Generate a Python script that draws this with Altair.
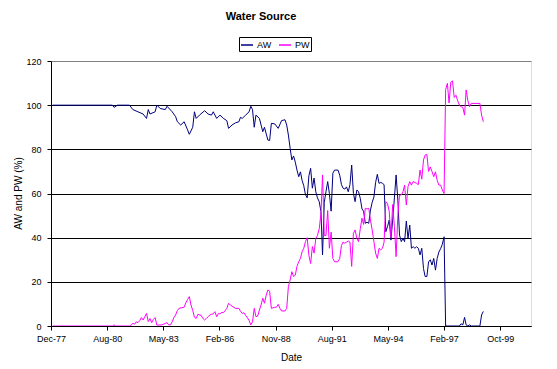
import altair as alt
import pandas as pd

# ---- data ----
AW_DATES = [
    "1978-01", "1980-12", "1981-01", "1981-03", "1981-10", "1981-12", "1982-03", "1982-06",
    "1982-08", "1982-09", "1982-10", "1983-01", "1983-02", "1983-04", "1983-07", "1983-08",
    "1983-11", "1984-01", "1984-02", "1984-04", "1984-06", "1984-08", "1984-09", "1984-11",
    "1984-12", "1985-01", "1985-03", "1985-06", "1985-08", "1985-10", "1985-11", "1986-01",
    "1986-03", "1986-05", "1986-07", "1986-08", "1986-10", "1986-12", "1987-02", "1987-03",
    "1987-04", "1987-06", "1987-08", "1987-09", "1987-10", "1987-11", "1987-12", "1988-02",
    "1988-04", "1988-05", "1988-06", "1988-07", "1988-08", "1988-09", "1988-11", "1989-01",
    "1989-03", "1989-05", "1989-06", "1989-07", "1989-08", "1989-09", "1989-10", "1989-11",
    "1989-12", "1990-01", "1990-02", "1990-03", "1990-04", "1990-05", "1990-06", "1990-07",
    "1990-08", "1990-09", "1990-10", "1990-11", "1990-12", "1991-01", "1991-02", "1991-03",
    "1991-04", "1991-05", "1991-06", "1991-07", "1991-08", "1991-09", "1991-10", "1991-12",
    "1992-01", "1992-02", "1992-03", "1992-04", "1992-05", "1992-06", "1992-07", "1992-08",
    "1992-09", "1992-10", "1992-11", "1992-12", "1993-01", "1993-02", "1993-03", "1993-04",
    "1993-05", "1993-06", "1993-07", "1993-08", "1993-09", "1993-10", "1993-11", "1993-12",
    "1994-01", "1994-02", "1994-03", "1994-04", "1994-05", "1994-06", "1994-07", "1994-08",
    "1994-09", "1994-10", "1994-11", "1994-12", "1995-01", "1995-02", "1995-03", "1995-04",
    "1995-05", "1995-06", "1995-07", "1995-08", "1995-09", "1995-10", "1995-11", "1995-12",
    "1996-01", "1996-02", "1996-03", "1996-04", "1996-05", "1996-06", "1996-07", "1996-08",
    "1996-09", "1996-10", "1996-11", "1996-12", "1997-01", "1997-02", "1997-03", "1997-11",
    "1997-12", "1998-01", "1998-02", "1998-03", "1998-04", "1998-05", "1998-06", "1998-11",
    "1998-12", "1999-01",
]
AW_VALUES = [
    100, 100, 99, 100, 100, 98, 97, 96,
    94, 98, 96, 97, 100, 98.5, 98, 99.5,
    97, 94.8, 92.5, 91, 92.5, 88.8, 86.8, 90,
    97, 94, 95.5, 97.5, 96, 95.5, 97, 94,
    95.5, 94, 93, 89.5, 91, 92, 92.5, 94.5,
    94, 95.5, 97, 99.5, 98, 90, 95.5, 94,
    88, 90, 87, 84.2, 84, 91.8, 91.5, 89.5,
    93, 93.4, 91, 86.5, 80.5, 75.2, 77, 74.2,
    70.6, 67.6, 69.8, 66, 63.5, 59.5, 58, 68,
    71.4, 62.4, 67, 60.8, 58, 56.3, 51.8, 32.2,
    56, 60.8, 65.4, 60, 52, 69.2, 70.6, 70.6,
    68.3, 64, 62.4, 62, 63, 60.8, 64, 72.9,
    60, 56.3, 61.6, 60.8, 57.8, 53, 52, 46.5,
    47, 46.5, 52.5, 56, 58.4, 65, 68.7, 64.6,
    65, 64.6, 64, 42.7, 45, 48, 38.9, 48,
    58, 68.4, 57, 41.2, 38.2, 39.7, 38.2, 47.5,
    39.7, 45.7, 35.2, 35.9, 35.2, 35.9, 35.2, 32.2,
    35.2, 26, 22.4, 22.4, 29, 30, 27.6, 30.6,
    25.3, 30.6, 33.5, 35, 37, 40.4, 0, 0,
    1, 0.5, 3.9, 0.5, 0, 0.5, 0, 0,
    5, 6.6,
]

PW_DATES = [
    "1978-01", "1980-12", "1981-01", "1981-02", "1981-10", "1981-11", "1981-12", "1982-01",
    "1982-02", "1982-03", "1982-04", "1982-05", "1982-06", "1982-07", "1982-08", "1982-09",
    "1982-10", "1982-11", "1982-12", "1983-01", "1983-02", "1983-05", "1983-07", "1983-08",
    "1983-09", "1983-10", "1983-11", "1983-12", "1984-01", "1984-02", "1984-03", "1984-06",
    "1984-07", "1984-08", "1984-09", "1984-10", "1984-11", "1984-12", "1985-01", "1985-02",
    "1985-03", "1985-04", "1985-05", "1985-06", "1985-07", "1985-08", "1985-09", "1985-10",
    "1985-11", "1985-12", "1986-01", "1986-02", "1986-03", "1986-04", "1986-05", "1986-06",
    "1986-07", "1986-08", "1986-09", "1986-10", "1986-11", "1986-12", "1987-02", "1987-03",
    "1987-04", "1987-05", "1987-06", "1987-07", "1987-08", "1987-09", "1987-10", "1987-11",
    "1987-12", "1988-01", "1988-02", "1988-03", "1988-04", "1988-05", "1988-06", "1988-07",
    "1988-08", "1988-09", "1988-11", "1988-12", "1989-01", "1989-02", "1989-03", "1989-05",
    "1989-06", "1989-07", "1989-08", "1989-09", "1989-10", "1989-11", "1989-12", "1990-01",
    "1990-02", "1990-03", "1990-04", "1990-05", "1990-06", "1990-07", "1990-08", "1990-09",
    "1990-10", "1990-11", "1990-12", "1991-01", "1991-02", "1991-03", "1991-04", "1991-05",
    "1991-06", "1991-07", "1991-08", "1991-09", "1991-10", "1991-12", "1992-01", "1992-02",
    "1992-03", "1992-04", "1992-05", "1992-06", "1992-07", "1992-08", "1992-09", "1992-10",
    "1992-11", "1992-12", "1993-01", "1993-02", "1993-03", "1993-04", "1993-05", "1993-06",
    "1993-07", "1993-08", "1993-09", "1993-10", "1993-11", "1993-12", "1994-01", "1994-02",
    "1994-03", "1994-04", "1994-05", "1994-06", "1994-07", "1994-08", "1994-09", "1994-10",
    "1994-11", "1994-12", "1995-01", "1995-02", "1995-03", "1995-04", "1995-05", "1995-06",
    "1995-07", "1995-08", "1995-09", "1995-10", "1995-11", "1995-12", "1996-01", "1996-02",
    "1996-03", "1996-04", "1996-05", "1996-06", "1996-07", "1996-08", "1996-09", "1996-10",
    "1996-11", "1996-12", "1997-01", "1997-02", "1997-03", "1997-04", "1997-05", "1997-06",
    "1997-07", "1997-08", "1997-09", "1997-10", "1997-11", "1997-12", "1998-01", "1998-02",
    "1998-03", "1998-04", "1998-05", "1998-06", "1998-11", "1998-12", "1999-01",
]
PW_VALUES = [
    0, 0, 0.5, 0, 0, 0.5, 1.2, 0.8,
    1.9, 1.5, 2.4, 3.8, 2.7, 4.2, 5.7, 2,
    3.4, 1.5, 3, 3.8, 0.4, 0.5, 1.2, 1.5,
    0.5, 0.5, 1.9, 3.8, 5, 7, 8, 8.5,
    10.5, 12, 13.3, 9.5, 7, 4, 3.4, 5.3,
    5, 4.8, 3.4, 2.7, 3.4, 4.2, 5, 5.3,
    5.5, 6.5, 4.2, 5.7, 5.5, 6.2, 6, 7,
    8, 10.3, 9.5, 9, 8.5, 8, 8, 6.7,
    5.7, 6, 4.8, 3.8, 2.5, 0.5, 1.9, 8,
    4.2, 4.5, 7.2, 9.5, 12.6, 10.3, 14, 16.3,
    15.7, 8, 8.5, 8.5, 9.8, 8, 6.8, 6.8,
    8, 17.8, 20.8, 24.6, 22.4, 23, 27, 29.1,
    30.6, 33.6, 35.2, 38.2, 40, 32, 28.3, 36,
    33, 39.6, 41, 44, 51, 68.4, 41, 41,
    52.3, 35.2, 42.5, 30.6, 29.1, 29.1, 30.6, 36.5,
    38, 37.5, 38, 38.5, 38, 27, 42, 43.5,
    39.7, 38.2, 44, 48.8, 46, 53.3, 53, 53.3,
    48, 43.5, 38.2, 33, 30.6, 35.2, 34.5, 35.2,
    38, 56.3, 55.5, 51.8, 40, 55, 45, 31.4,
    50, 59.3, 59.3, 60.8, 63.8, 54.8, 63.1, 65.4,
    63.8, 65.4, 65, 64.6, 64, 70.6, 66.5, 75.2,
    77.4, 77.7, 70, 72, 70, 67.6, 69.8, 66,
    63.8, 63.8, 61.6, 60, 107, 109.9, 101, 110.4,
    111, 103.5, 104.5, 102, 100, 99.3, 99, 95.5,
    106.9, 102, 99.3, 100.8, 100.8, 95.5, 92.5,
]

SERIES = ["AW", "PW"]
COLORS = ["#000080", "#FF00FF"]
Y_TICKS = [0, 20, 40, 60, 80, 100, 120]
X_TICK_DATES = ["1977-12-04", "1980-08-30", "1983-05-26", "1986-02-20", "1988-11-16",
                "1991-08-13", "1994-05-09", "1997-02-02", "1999-10-30"]
X_DOMAIN = ["1977-12-04", "2001-04-29"]


def ms(s):
    return int(pd.Timestamp(s, tz="UTC").value // 10**6)


rows = []
for d, v in zip(AW_DATES, AW_VALUES):
    rows.append({"date": d + "-01", "value": v, "series": "AW"})
for d, v in zip(PW_DATES, PW_VALUES):
    rows.append({"date": d + "-01", "value": v, "series": "PW"})
df = pd.DataFrame(rows)

FONT = "Liberation Sans"

chart = alt.Chart(df).mark_line(strokeWidth=1, clip=True).encode(
    x=alt.X(
        "date:T",
        scale=alt.Scale(type="utc", domain=[ms(X_DOMAIN[0]), ms(X_DOMAIN[1])]),
        axis=alt.Axis(
            title="Date",
            values=[ms(s) for s in X_TICK_DATES],
            labelExpr="utcFormat(datum.value, '%b-%y')",
            grid=False,
            domainColor="black",
            tickColor="black",
            tickSize=4,
            labelPadding=4,
            labelColor="black",
            labelFont=FONT,
            labelFontSize=9,
            labelFlush=False,
            labelOverlap=False,
            titleFont=FONT,
            titleFontSize=10,
            titleFontWeight="normal",
            titleColor="black",
            titleBaseline="alphabetic",
            titleY=34,
        ),
    ),
    y=alt.Y(
        "value:Q",
        scale=alt.Scale(domain=[0, 120], nice=False),
        axis=alt.Axis(
            title="AW and PW (%)",
            values=Y_TICKS,
            grid=True,
            gridColor={"condition": {"test": "datum.value === 120", "value": "#808080"}, "value": "black"},
            gridWidth=1,
            domainColor="black",
            tickColor="black",
            tickSize=4,
            labelPadding=6,
            labelColor="black",
            labelFont=FONT,
            labelFontSize=9,
            titleFont=FONT,
            titleFontSize=10,
            titleFontWeight="normal",
            titleColor="black",
            titleBaseline="middle",
            titleX=-33,
            titleY=132,
        ),
    ),
    color=alt.Color(
        "series:N",
        scale=alt.Scale(domain=SERIES, range=COLORS),
        legend=alt.Legend(
            title=None,
            orient="none",
            legendX=188,
            legendY=-24,
            direction="horizontal",
            symbolType="stroke",
            symbolSize=144,
            symbolStrokeWidth=1.5,
            labelFont=FONT,
            labelFontSize=9,
            labelColor="black",
            labelOffset=3,
            columnPadding=4,
            padding=1,
            strokeColor="black",
            fillColor="white",
        ),
    ),
    order=alt.Order("date:T"),
).properties(
    width=480,
    height=265,
    title=alt.TitleParams(
        "Water Source",
        font=FONT,
        fontSize=11,
        fontWeight="bold",
        color="black",
        anchor="middle",
        dx=-30,
        offset=6,
        baseline="alphabetic",
    ),
    autosize=alt.AutoSizeParams(type="none"),
    padding={"left": 51, "top": 61, "right": 26, "bottom": 43},
).configure_view(
    stroke="#808080",
    strokeWidth=1,
).configure(background="white")

chart.save("out.html", embed_options={"renderer": "svg", "actions": False})
